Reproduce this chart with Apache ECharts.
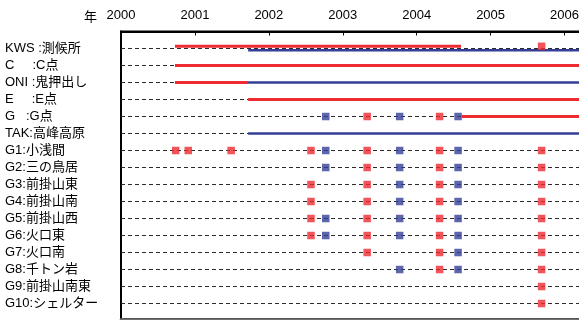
<!DOCTYPE html>
<html>
<head>
<meta charset="utf-8">
<script src="https://cdn.jsdelivr.net/npm/echarts@6/dist/echarts.min.js"></script>
<style>
  html, body { margin: 0; padding: 0; background: #fff; }
  #chart { width: 579px; height: 320px; }
</style>
</head>
<body>
<div id="chart"></div>
<script>
// Observation stations (rows, top to bottom)
const rowLabels = [
  'KWS :測候所', 'C     :C点', 'ONI :鬼押出し', 'E     :E点', 'G   :G点', 'TAK:高峰高原',
  'G1:小浅間', 'G2:三の鳥居', 'G3:前掛山東', 'G4:前掛山南', 'G5:前掛山西',
  'G6:火口東', 'G7:火口南', 'G8:千トン岩', 'G9:前掛山南東', 'G10:シェルター'
];
const yearTicks = [2000, 2001, 2002, 2003, 2004, 2005, 2006];
const axisEnd = 2006.25;

// Continuous records: [row, start, end]
const redSpans = [
  [0, 2000.73, 2004.60],
  [1, 2000.73, axisEnd],
  [2, 2000.73, 2001.72],
  [3, 2001.72, axisEnd],
  [4, 2004.61, axisEnd]
];
const blueSpans = [
  [0, 2001.72, axisEnd],
  [2, 2001.72, axisEnd],
  [5, 2001.72, axisEnd]
];

// Campaign observations, one list per row
const redObs = [
  [2005.69], [], [], [], [2003.33, 2004.31], [],
  [2000.74, 2000.91, 2001.49, 2002.57, 2003.33, 2004.31, 2005.69],
  [2003.33, 2004.31, 2005.69],
  [2002.57, 2003.33, 2004.31, 2005.69],
  [2002.57, 2003.33, 2004.31, 2005.69],
  [2002.57, 2003.33, 2004.31, 2005.69],
  [2002.57, 2003.33, 2004.31, 2005.69],
  [2003.33, 2004.31, 2005.69],
  [2004.31, 2005.69],
  [2005.69],
  [2005.69]
];
const blueObs = [
  [], [], [], [], [2002.77, 2003.77, 2004.56], [],
  [2002.77, 2003.77, 2004.56],
  [2002.77, 2003.77, 2004.56],
  [2003.77, 2004.56],
  [2003.77, 2004.56],
  [2002.77, 2003.77, 2004.56],
  [2002.77, 2003.77, 2004.56],
  [2004.56],
  [2003.77, 2004.56],
  [],
  []
];

const RED = '#ee2b31';
const BLUE = '#343e98';
const FONT = '"Liberation Sans", Arial, "Noto Sans CJK JP", sans-serif';
// the KWS row carries two records, drawn slightly apart
const redShift = (row) => (row === 0 ? -0.13 : 0);
const blueShift = (row) => (row === 0 ? 0.1 : 0);

const series = [];

// dashed guide for every station
rowLabels.forEach((_, i) => {
  series.push({
    type: 'line', silent: true, symbol: 'none', z: 1,
    data: [[yearTicks[0], i], [axisEnd, i]],
    lineStyle: { color: '#2a2a2a', width: 1, type: [4, 3] }
  });
});

redSpans.forEach(([row, a, b]) => {
  series.push({
    type: 'line', silent: true, symbol: 'none', z: 3,
    data: [[a, row + redShift(row)], [b, row + redShift(row)]],
    lineStyle: { color: RED, width: 3 }
  });
});
blueSpans.forEach(([row, a, b]) => {
  series.push({
    type: 'line', silent: true, symbol: 'none', z: 3,
    data: [[a, row + blueShift(row)], [b, row + blueShift(row)]],
    lineStyle: { color: BLUE, width: 2.6 }
  });
});

const redPts = [];
redObs.forEach((list, row) => list.forEach(t => redPts.push([t, row + redShift(row)])));
const bluePts = [];
blueObs.forEach((list, row) => list.forEach(t => bluePts.push([t, row + blueShift(row)])));

series.push({
  type: 'scatter', silent: true, z: 5,
  symbol: 'rect', symbolSize: 7.5, data: redPts, itemStyle: { color: RED }
});
series.push({
  type: 'scatter', silent: true, z: 5,
  symbol: 'rect', symbolSize: 7.5, data: bluePts, itemStyle: { color: BLUE }
});

const chart = echarts.init(document.getElementById('chart'), null, { renderer: 'canvas' });
chart.setOption({
  animation: false,
  backgroundColor: '#fff',
  title: {
    text: '年', left: 79, top: 6,
    textStyle: { fontFamily: FONT, fontSize: 13, fontWeight: 'normal', color: '#000' }
  },
  grid: {
    left: 121, right: -4, top: 31.5, bottom: 1, outerBoundsMode: 'none',
    show: true, backgroundColor: 'transparent', borderColor: '#000', borderWidth: 2
  },
  xAxis: [
    {
      type: 'value', position: 'top', min: yearTicks[0], max: axisEnd, interval: 1,
      axisLine: { show: true, onZero: false, lineStyle: { color: '#000', width: 2 } },
      axisTick: { show: true, inside: true, length: 4, lineStyle: { color: '#000', width: 1 } },
      axisLabel: {
        margin: 10, fontFamily: FONT, fontSize: 13, color: '#000',
        formatter: v => (Number.isInteger(v) ? String(v) : '')
      },
      splitLine: { show: false }
    },
    {
      type: 'value', position: 'bottom', min: yearTicks[0], max: axisEnd,
      axisLine: { show: true, onZero: false, lineStyle: { color: '#727272', width: 2.6 } },
      axisTick: { show: false }, axisLabel: { show: false }, splitLine: { show: false }
    }
  ],
  yAxis: {
    type: 'value', inverse: true, min: -1, max: 15.91, interval: 1,
    axisLine: { show: true, onZero: false, lineStyle: { color: '#000', width: 2 } },
    axisTick: { show: false },
    splitLine: { show: false },
    axisLabel: {
      align: 'left', margin: 116, fontFamily: FONT, fontSize: 13, color: '#000',
      formatter: v => (Number.isInteger(v) && v >= 0 && v < rowLabels.length ? rowLabels[v] : '')
    }
  },
  series: series
});
</script>
</body>
</html>
